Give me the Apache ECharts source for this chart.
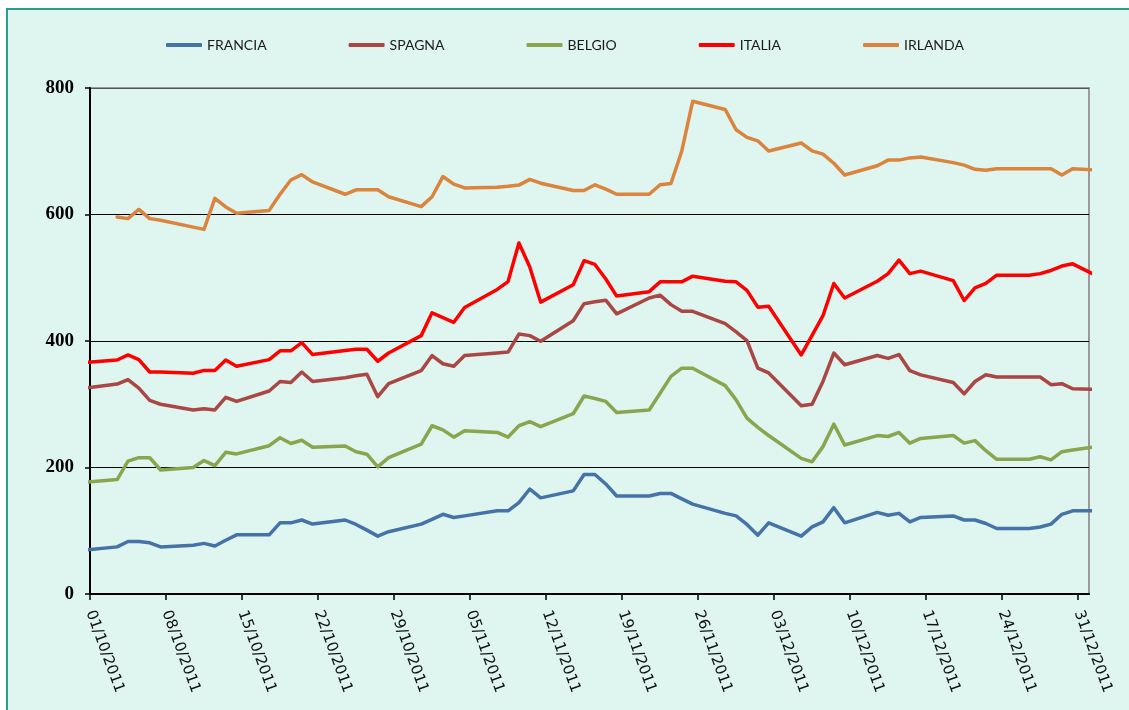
<!DOCTYPE html>
<html>
<head>
<meta charset="utf-8">
<title>Spread titoli di stato</title>
<script src="https://cdn.jsdelivr.net/npm/echarts@6/dist/echarts.min.js"></script>
<style>
  html, body { margin: 0; padding: 0; background: #fff; }
  #chart { width: 1129px; height: 710px; }
</style>
</head>
<body>
<div id="chart"></div>
<script>
// trading days (30/09/2011 and 02/01/2012 only feed the clipped ends of the lines)
const dates = [
  '30/09/2011',
  '03/10/2011', '04/10/2011', '05/10/2011', '06/10/2011', '07/10/2011',
  '10/10/2011', '11/10/2011', '12/10/2011', '13/10/2011', '14/10/2011',
  '17/10/2011', '18/10/2011', '19/10/2011', '20/10/2011', '21/10/2011',
  '24/10/2011', '25/10/2011', '26/10/2011', '27/10/2011', '28/10/2011',
  '31/10/2011', '01/11/2011', '02/11/2011', '03/11/2011', '04/11/2011',
  '07/11/2011', '08/11/2011', '09/11/2011', '10/11/2011', '11/11/2011',
  '14/11/2011', '15/11/2011', '16/11/2011', '17/11/2011', '18/11/2011',
  '21/11/2011', '22/11/2011', '23/11/2011', '24/11/2011', '25/11/2011',
  '28/11/2011', '29/11/2011', '30/11/2011', '01/12/2011', '02/12/2011',
  '05/12/2011', '06/12/2011', '07/12/2011', '08/12/2011', '09/12/2011',
  '12/12/2011', '13/12/2011', '14/12/2011', '15/12/2011', '16/12/2011',
  '19/12/2011', '20/12/2011', '21/12/2011', '22/12/2011', '23/12/2011',
  '26/12/2011', '27/12/2011', '28/12/2011', '29/12/2011', '30/12/2011',
  '02/01/2012'
];

const francia = [
  69.5,
  74.5, 83, 83, 81, 74.5,
  77, 80, 76, 85, 93.5,
  93.5, 112.5, 112.5, 117, 110.5,
  117, 110, 101, 91.5, 98.5,
  110.5, 118, 126, 121, 123.5,
  131.5, 131.5, 144.5, 166, 152,
  163, 189, 189, 174, 155,
  155, 159, 159, 150.5, 142,
  127.5, 123.5, 110, 93, 112.5,
  91.5, 106, 114, 136.5, 112.5,
  129, 124.5, 127.5, 114, 121,
  123.5, 117, 117, 111.5, 103.5,
  103.5, 106, 110.5, 126, 131.5,
  131.5
];

const spagna = [
  325.3,
  332, 339, 325.5, 306, 300,
  291, 293, 291, 311, 304.5,
  321, 336, 334.5, 351, 336,
  342, 345, 347.5, 312, 332.5,
  353, 377, 364, 360, 377,
  381, 382.5, 411, 408.5, 399.5,
  432, 459, 462, 464.5, 443,
  468, 472.5, 457.5, 447, 447,
  427.5, 414.5, 400.5, 357, 349.5,
  297.5, 300, 336, 381, 362.5,
  377, 372.5, 378.5, 353, 346.5,
  334.5, 316.5, 336, 346.5, 343,
  343, 343, 331, 332.5, 324.5,
  323.5
];

const belgio = [
  176.8,
  181, 210, 215.5, 215.5, 196,
  200, 211, 203, 224, 221.5,
  234.5, 247, 238, 243, 232,
  234, 225, 221, 201, 215.5,
  237, 266, 259.5, 248, 258,
  255.5, 248, 266, 272.5, 264.5,
  285, 313, 309, 304.5, 287,
  291, 317.5, 344, 357, 357,
  329.5, 307, 278, 263.5, 250.5,
  214.5, 209, 233, 268.5, 235.5,
  250.5, 249, 255.5, 238.5, 246,
  250.5, 238.5, 242.5, 226.5, 213,
  213, 217, 212, 225, 227.5,
  235
];

const italia = [
  366,
  370, 378, 370.5, 351, 351,
  349, 353.5, 353.5, 370, 360,
  370.5, 384.5, 384.5, 397.5, 378.5,
  385, 387, 387, 368, 381,
  408.5, 444.5, 437, 429.5, 453,
  481.5, 494, 555, 517, 461.5,
  489, 527, 521, 498, 471,
  478, 493.5, 493.5, 493.5, 502.5,
  494.5, 493.5, 480, 453.5, 455,
  378, 409, 440, 491, 468,
  494.5, 506.5, 528, 506.5, 510.5,
  495.5, 464, 484, 491, 504,
  504, 506.5, 511.5, 518.5, 522,
  496
];

const irlanda = [
  null,
  596, 593.5, 608, 593.5, 591,
  580, 576.5, 625.5, 612, 602,
  606.5, 632, 654.5, 663, 651.5,
  632, 639, 639, 639, 628,
  612.5, 628, 660, 648, 642,
  643, 644.5, 646.5, 655.5, 649.5,
  638, 638, 647, 640, 632,
  632, 647, 649, 700.5, 779,
  766, 734, 722, 716.5, 700.5,
  713, 700.5, 695.5, 681, 662.5,
  677, 686, 686, 689.5, 691,
  682, 678, 671.5, 670, 672.5,
  672.5, 672.5, 672.5, 662.5, 672.5,
  669.5
];

const tickLabels = [
  '01/10/2011', '08/10/2011', '15/10/2011', '22/10/2011', '29/10/2011',
  '05/11/2011', '12/11/2011', '19/11/2011', '26/11/2011', '03/12/2011',
  '10/12/2011', '17/12/2011', '24/12/2011', '31/12/2011'
];

const seriesNames = ['FRANCIA', 'SPAGNA', 'BELGIO', 'ITALIA', 'IRLANDA'];
const seriesValues = [francia, spagna, belgio, italia, irlanda];
const colors = ['#4572A7', '#AA4643', '#89A54E', '#FF0000', '#DB843D'];

const DAY = 86400000;
const origin = Date.UTC(2011, 9, 1);
function toDay(s) {
  const [d, m, y] = s.split('/').map(Number);
  return (Date.UTC(y, m - 1, d) - origin) / DAY;
}
// Excel's date axis puts each point in the middle of its day
const xs = dates.map((d) => toDay(d) + 0.5);
const tickDays = tickLabels.map(toDay);

const chart = echarts.init(document.getElementById('chart'));

chart.setOption({
  animation: false,
  backgroundColor: '#ffffff',
  color: colors,
  graphic: [
    {
      type: 'rect',
      z: -10,
      silent: true,
      shape: { x: 7, y: 9, width: 1200, height: 800 },
      style: { fill: '#dff5ef', stroke: '#2a9d8f', lineWidth: 2 },
    },
  ],
  legend: {
    top: 33,
    left: 161,
    itemWidth: 36,
    itemHeight: 4,
    itemGap: 82,
    icon: 'roundRect',
    textStyle: { fontFamily: 'Lato', fontSize: 14, color: '#1a1a1a' },
    data: seriesNames,
  },
  grid: {
    left: 90,
    right: 40,
    top: 88,
    bottom: 116,
    show: true,
    borderColor: '#9a9a9a',
    borderWidth: 2,
    backgroundColor: 'transparent',
  },
  xAxis: {
    type: 'value',
    min: 0,
    max: 92,
    interval: 7,
    axisLine: { lineStyle: { color: '#000', width: 2 } },
    axisTick: { length: 6, lineStyle: { color: '#000', width: 1.5 }, customValues: tickDays },
    splitLine: { show: false },
    axisLabel: {
      customValues: tickDays,
      rotate: -70,
      margin: 17,
      fontFamily: 'DejaVu Sans',
      fontSize: 15,
      color: '#111',
      formatter: (v) => {
        const i = tickDays.indexOf(Math.round(v));
        return i >= 0 ? tickLabels[i] : '';
      },
    },
  },
  yAxis: {
    type: 'value',
    min: 0,
    max: 800,
    interval: 200,
    axisLine: { show: true, lineStyle: { color: '#000', width: 2 } },
    axisTick: { show: true, length: 5, lineStyle: { color: '#000', width: 1.5 } },
    axisLabel: {
      margin: 16,
      fontFamily: 'Liberation Serif',
      fontWeight: 'bold',
      fontSize: 19,
      color: '#000',
    },
    splitLine: {
      lineStyle: { color: ['#000', '#000', '#000', '#000', '#555'], width: 1.2 },
    },
  },
  series: seriesNames.map((name, k) => ({
    name,
    type: 'line',
    symbol: 'none',
    clip: true,
    data: xs.map((x, i) => [x, seriesValues[k][i]]),
    lineStyle: { width: 3.5, color: colors[k], join: 'round', cap: 'round' },
  })),
});

window.addEventListener('resize', () => chart.resize());
</script>
</body>
</html>
